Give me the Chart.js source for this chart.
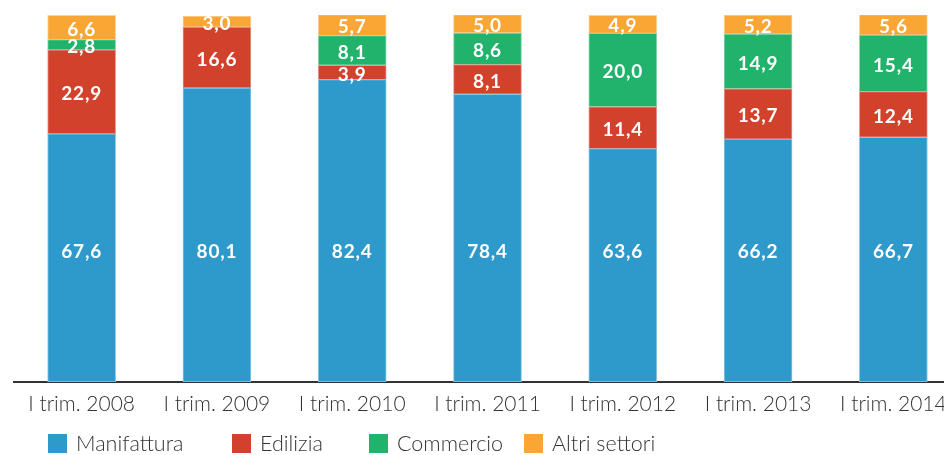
<!DOCTYPE html>
<html>
<head>
<meta charset="utf-8">
<script src="https://cdn.jsdelivr.net/npm/chart.js@4.4.1/dist/chart.umd.min.js"></script>
<style>
  html, body { margin: 0; padding: 0; background: #fff; overflow: hidden; width: 944px; height: 455px; }
  #wrap { position: absolute; left: 0; top: 0; width: 961px; height: 455px; }
  #legend { position: absolute; left: 0; top: 0; width: 944px; height: 455px; pointer-events: none; }
  .item { position: absolute; top: 432px; height: 22px; display: flex; align-items: center; font-family: Lato, "Open Sans", sans-serif; font-weight: 300; font-size: 21.5px; color: #333; white-space: nowrap; }
  .box { width: 19px; height: 19px; margin-right: 9px; }
</style>
</head>
<body>
<div id="wrap"><canvas id="c"></canvas></div>
<div id="legend"></div>
<script>
const categories = ["I trim. 2008", "I trim. 2009", "I trim. 2010", "I trim. 2011", "I trim. 2012", "I trim. 2013", "I trim. 2014"];
const seriesNames = ["Manifattura", "Edilizia", "Commercio", "Altri settori"];
const manifattura = [67.6, 80.1, 82.4, 78.4, 63.6, 66.2, 66.7];
const edilizia    = [22.9, 16.6, 3.9, 8.1, 11.4, 13.7, 12.4];
const commercio   = [2.8, 0, 8.1, 8.6, 20.0, 14.9, 15.4];
const altri       = [6.6, 3.0, 5.7, 5.0, 4.9, 5.2, 5.6];

const colors = ["#2E99CB", "#D2412C", "#21B36B", "#FAA634"];
const borders = ["#8CC6E4", "#E89A8E", "#8ED6B2", "#FCD199"];
const legendLeft = [48, 232, 369, 524];

const values = [manifattura, edilizia, commercio, altri];

const labelPlugin = {
  id: 'segLabels',
  afterDatasetsDraw(chart) {
    const ctx = chart.ctx;
    const yScale = chart.scales.y;
    ctx.save();
    ctx.fillStyle = '#ffffff';
    ctx.font = 'bold 19px Lato, "Open Sans", sans-serif';
    if ('letterSpacing' in ctx) ctx.letterSpacing = '0.8px';
    ctx.textAlign = 'center';
    ctx.textBaseline = 'middle';
    chart.data.datasets.forEach((ds, di) => {
      const meta = chart.getDatasetMeta(di);
      meta.data.forEach((bar, i) => {
        const v = ds.data[i];
        if (!v) return;
        const txt = v.toFixed(1).replace('.', ',');
        let y;
        if (di === 0) {
          y = yScale.getPixelForValue(35.5);
        } else {
          y = (bar.y + bar.base) / 2 + 2;
        }
        ctx.fillText(txt, bar.x, y);
      });
    });
    ctx.restore();
  }
};

const chart = new Chart(document.getElementById('c'), {
  type: 'bar',
  data: {
    labels: categories,
    datasets: seriesNames.map((name, k) => ({
      label: name,
      data: values[k],
      backgroundColor: colors[k],
      borderColor: borders[k],
      borderWidth: 1,
      borderSkipped: false,
      barThickness: 68
    }))
  },
  options: {
    responsive: true,
    maintainAspectRatio: false,
    animation: false,
    layout: { padding: { left: 14, right: 0, top: 15, bottom: 0 } },
    plugins: { legend: { display: false }, tooltip: { enabled: false } },
    scales: {
      x: {
        stacked: true,
        grid: { display: false, drawTicks: false },
        border: { display: true, color: '#333333', width: 2 },
        ticks: {
          color: '#333333',
          padding: 10,
          font: { family: 'Lato, "Open Sans", sans-serif', size: 21, weight: '300' }
        },
        afterFit(scale) { scale.height = 73; }
      },
      y: {
        stacked: true,
        display: false,
        min: 0,
        max: 100
      }
    }
  },
  plugins: [labelPlugin]
});

const leg = document.getElementById('legend');
chart.data.datasets.forEach((ds, k) => {
  const it = document.createElement('div');
  it.className = 'item';
  it.style.left = legendLeft[k] + 'px';
  const b = document.createElement('div');
  b.className = 'box';
  b.style.background = ds.backgroundColor;
  const t = document.createElement('span');
  t.textContent = ds.label;
  it.appendChild(b);
  it.appendChild(t);
  leg.appendChild(it);
});
</script>
</body>
</html>
